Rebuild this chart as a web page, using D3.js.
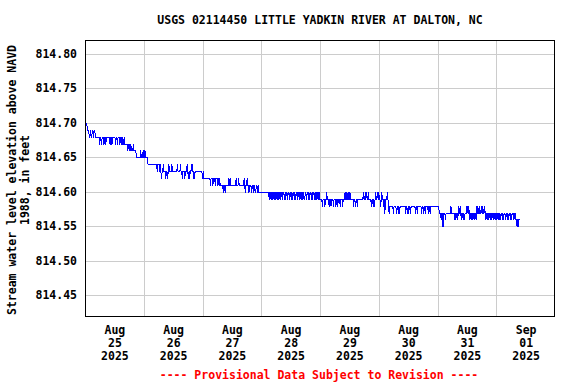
<!DOCTYPE html>
<html><head><meta charset="utf-8">
<script src="https://cdn.jsdelivr.net/npm/d3@7"></script>
<style>body{margin:0;background:#fff}svg{display:block}</style>
</head><body><svg id="chart" width="576" height="384"></svg>
<script>
const title = "USGS 02114450 LITTLE YADKIN RIVER AT DALTON, NC";
const yLabelLines = ["Stream water level elevation above NAVD", "1988, in feet"];
const footer = "---- Provisional Data Subject to Revision ----";
const yTicks = [814.45, 814.50, 814.55, 814.60, 814.65, 814.70, 814.75, 814.80];
const dayLabels = [["Aug","25","2025"],["Aug","26","2025"],["Aug","27","2025"],["Aug","28","2025"],
                   ["Aug","29","2025"],["Aug","30","2025"],["Aug","31","2025"],["Sep","01","2025"]];
const startDate = [2025, 7, 25];      // Aug 25 2025, 00:00
const endDate = [2025, 8, 2];         // Sep 02 2025, 00:00
const baseValue = 814.55;             // hex digit 0 = 814.55, each digit = +0.01 ft
// [15-minute index from start, readings as hex digits]
const readings = [
 [0,"eeffeee"],[7,"ddedd"],[12,"eedee"],[17,"ddddd"],
 [22,"ddcddcdddcddcddddddcddcdddddcddcdddcddcdc"],
 [63,"cdccc"],[68,"ccbcc"],[73,"bbcbbbcb"],[81,"bbb"],[84,"aaaaa"],
 [89,"aabaaabaabaa"],[101,"aa999"],[106,"9999999999"],[116,"99899989"],
 [124,"878"],[127,"898887"],[133,"88789"],[138,"88889888888"],[149,"8898"],
 [153,"88"],[155,"8988"],[159,"78887"],[164,"88"],[166,"898"],[169,"787"],
 [172,"88"],[174,"989"],[177,"787"],[180,"8888888888887"],
 [193,"8777777777"],[203,"776777677767776767"],[221,"66666566566666"],
 [235,"767"],[238,"6666666"],[245,"66766676"],[253,"6666666"],[260,"7656676656"],
 [270,"66566566556656"],[284,"555555555555555"],
 [299,"5545545455"],[309,"4554554545"],[319,"5455455454"],[329,"5545545545"],
 [339,"4554545545"],[349,"5455454554"],[359,"4554554545"],[369,"5454554545"],[379,"4554544"],
 [386,"44344434"],[394,"45444344344434443443444344434"],
 [423,"445445445454"],[435,"444"],[438,"434434434"],[447,"4444444"],
 [454,"4544545445"],[464,"444"],[467,"4344343"],[474,"45445454"],[482,"43"],
 [484,"45443424"],[492,"44543233"],
 [500,"333"],[503,"323"],[506,"33"],[508,"32332323"],[516,"3333333"],
 [523,"32332323323"],[534,"33333"],[539,"323323"],[545,"3333"],[549,"32332332"],
 [557,"333"],[560,"323323"],[566,"33333333333"],
 [577,"33222122"],[585,"0222122222222"],
 [598,"3"],[599,"2222"],[603,"2121221"],[610,"2"],[611,"323"],[614,"2122121"],
 [621,"22"],[623,"23323"],[628,"2122121"],[635,"2"],[636,"2121"],[640,"323"],
 [643,"2"],[644,"2322323"],[651,"2"],[652,"2321"],
 [656,"2121221212"],[666,"2122121221"],[676,"2121221212"],[686,"2122121221"],[696,"212"],
 [699,"22122"],[704,"11010111"]
];

const t0 = new Date(startDate[0], startDate[1], startDate[2]);
const t1 = new Date(endDate[0], endDate[1], endDate[2]);
const data = [];
readings.forEach(([start, s]) => {
  for (let k = 0; k < s.length; k++) {
    data.push({t: d3.timeMinute.offset(t0, (start + k) * 15), v: baseValue + parseInt(s[k], 16) / 100});
  }
});

const W = 576, H = 384;
const L = 85, R = 555, T = 40, B = 316;
const FONT = "'DejaVu Sans Mono', monospace";
const svg = d3.select("#chart");
svg.append("rect").attr("width", W).attr("height", H).attr("fill", "#fff");

const x = d3.scaleTime().domain([t0, t1]).range([L, R]);
const y = d3.scaleLinear().domain([814.42, 814.82]).range([B, T]);

// grid
const grid = svg.append("g").attr("shape-rendering", "crispEdges");
grid.selectAll("line.h").data(yTicks).join("line")
  .attr("x1", L).attr("x2", R)
  .attr("y1", d => Math.round(y(d)) + 0.5).attr("y2", d => Math.round(y(d)) + 0.5)
  .attr("stroke", "#cccccc").attr("stroke-width", 1);
const midnights = d3.timeDay.range(d3.timeDay.offset(t0, 1), t1);
grid.selectAll("line.v").data(midnights).join("line")
  .attr("y1", T).attr("y2", B)
  .attr("x1", d => Math.round(x(d)) + 0.5).attr("x2", d => Math.round(x(d)) + 0.5)
  .attr("stroke", "#cccccc").attr("stroke-width", 1);

// data line
const line = d3.line().x(d => x(d.t)).y(d => Math.round(y(d.v)) + 0.5);
svg.append("path").datum(data).attr("d", line)
  .attr("fill", "none").attr("stroke", "#0000ff").attr("stroke-width", 1)
  .attr("shape-rendering", "crispEdges");

// frame
svg.append("rect").attr("x", L + 0.5).attr("y", T + 0.5).attr("width", R - L - 1).attr("height", B - T)
  .attr("fill", "none").attr("stroke", "#000").attr("stroke-width", 1).attr("shape-rendering", "crispEdges");

// y axis
const yAxis = d3.axisLeft(y).tickValues(yTicks).tickFormat(d3.format(".2f")).tickSize(0).tickPadding(8);
const ga = svg.append("g").attr("transform", `translate(${L},0)`).call(yAxis);
ga.select(".domain").remove();
ga.selectAll("text").attr("font-family", FONT).attr("font-weight", "bold").attr("font-size", 11.5).attr("fill", "#000");

// x axis labels at noon of each day
const noons = d3.timeDay.range(t0, t1).map(d => d3.timeHour.offset(d, 12));
const xAxis = d3.axisBottom(x).tickValues(noons).tickSize(0).tickFormat("");
const gx = svg.append("g").attr("transform", `translate(0,${B})`).call(xAxis);
gx.select(".domain").remove();
gx.selectAll(".tick").each(function(d, i) {
  const tt = d3.select(this).append("text").attr("text-anchor", "middle").attr("fill", "#000")
    .attr("font-family", FONT).attr("font-weight", "bold").attr("font-size", 11.5);
  dayLabels[i].forEach((s, j) => tt.append("tspan").attr("x", 0).attr("y", 18 + j * 13).text(s));
});

// title
svg.append("text").attr("x", 320).attr("y", 24).attr("text-anchor", "middle")
  .attr("font-family", FONT).attr("font-weight", "bold").attr("font-size", 11.5).text(title);

// y label
const yl = svg.append("text").attr("transform", "translate(0,180) rotate(-90)").attr("text-anchor", "middle")
  .attr("font-family", FONT).attr("font-weight", "bold").attr("font-size", 11.5);
yLabelLines.forEach((s, j) => yl.append("tspan").attr("x", 0).attr("y", 16 + j * 13).text(s));

// footer
svg.append("text").attr("x", 319).attr("y", 379).attr("text-anchor", "middle").attr("fill", "#ff0000")
  .attr("font-family", FONT).attr("font-weight", "bold").attr("font-size", 11.5).text(footer);
</script></body></html>
